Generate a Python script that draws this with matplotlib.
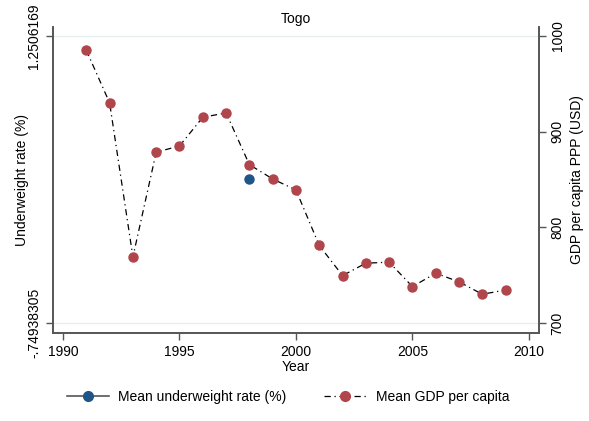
import matplotlib
matplotlib.use("Agg")
import matplotlib.pyplot as plt
from matplotlib.lines import Line2D

plt.rcParams['font.family'] = ['Liberation Sans', 'DejaVu Sans']

years = [1991, 1992, 1993, 1994, 1995, 1996, 1997, 1998, 1999, 2000,
         2001, 2002, 2003, 2004, 2005, 2006, 2007, 2008, 2009]
gdp = [985, 930, 769, 878.5, 885, 915, 919.5, 865.5, 850.5, 839,
       781, 749.5, 762.5, 763.5, 738, 752, 743, 730, 734.5]
uw_years = [1998]
uw_values = [0.2506169]
left_ticks = [-0.74938305, 1.2506169]
left_ticklabels = ["-.74938305", "1.2506169"]
right_ticks = [700, 800, 900, 1000]
x_ticks = [1990, 1995, 2000, 2005, 2010]

red = '#b0454b'
blue = '#1f5687'
spine_col = '#555555'
dashdot = (0, (5, 3, 1, 3))

fig = plt.figure(figsize=(5.89, 4.21), dpi=100)
ax = fig.add_axes([0.09, 0.209, 0.825, 0.727])
ax2 = ax.twinx()

ax.set_xlim(1989.57, 2010.43)
ax.set_ylim(-0.749383 - 10/143.5, 1.2506169 + 9/143.5)
ax2.set_ylim(689.5, 1009.4)

for y in left_ticks:
    ax.axhline(y, color='#e6eff0', lw=1, zorder=0)

ax2.plot(years, gdp, color='black', lw=0.9, linestyle=dashdot,
         marker='o', markersize=6.5, markerfacecolor=red, markeredgecolor=red, zorder=3)
ax.plot(uw_years, uw_values, color=blue, lw=1, marker='o', markersize=6.5,
        markerfacecolor=blue, markeredgecolor=blue, zorder=3)

ax.set_yticks(left_ticks)
ax.set_yticklabels(left_ticklabels, rotation=90, va='center')
ax2.set_yticks(right_ticks)
ax2.set_yticklabels([str(t) for t in right_ticks], rotation=90, va='center')
ax.set_xticks(x_ticks)

for a in (ax, ax2):
    a.spines['top'].set_visible(False)
    for s in ('left', 'right', 'bottom'):
        a.spines[s].set_color(spine_col)
        a.spines[s].set_linewidth(1.2)
    a.tick_params(direction='out', length=5, width=1, color=spine_col,
                  labelsize=10, labelcolor='black')

ax.set_xlabel('Year', fontsize=10, labelpad=1)
ax.set_ylabel('Underweight rate (%)', fontsize=10, labelpad=-1)
ax2.set_ylabel('GDP per capita PPP (USD)', fontsize=10, labelpad=4)
ax.set_title('Togo', fontsize=10, pad=3)

handles = [
    Line2D([], [], color=spine_col, lw=1.2, marker='o', markersize=7,
           markerfacecolor=blue, markeredgecolor=blue),
    Line2D([], [], color='black', lw=0.9, linestyle=dashdot, marker='o',
           markersize=7, markerfacecolor=red, markeredgecolor=red),
]
fig.legend(handles, ['Mean underweight rate (%)', 'Mean GDP per capita'],
           loc='center', bbox_to_anchor=(0.489, 0.057), ncol=2, frameon=False,
           fontsize=10, handlelength=3.0, handletextpad=0.7, columnspacing=2.7)

fig.savefig('out.png', dpi=100)
